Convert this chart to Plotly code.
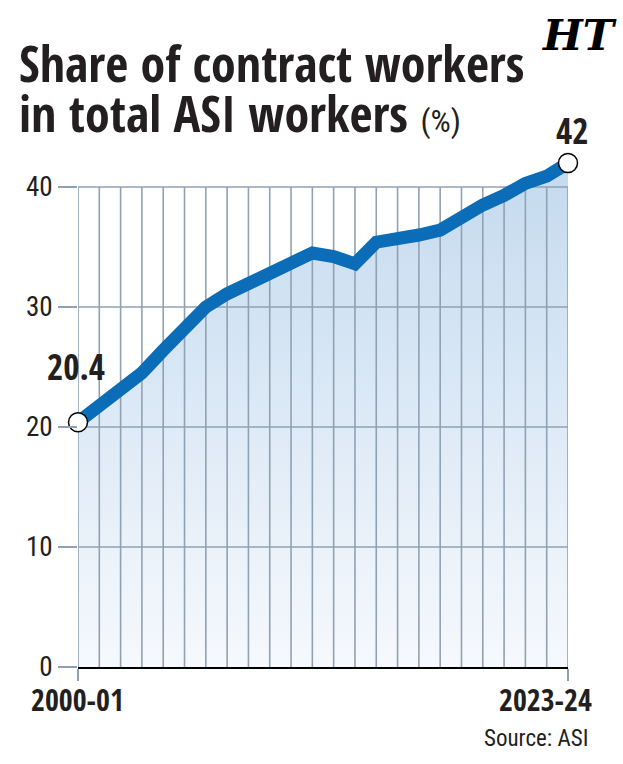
import plotly.graph_objects as go

# ---- data ----
years = ["2000-01", "2001-02", "2002-03", "2003-04", "2004-05", "2005-06", "2006-07",
         "2007-08", "2008-09", "2009-10", "2010-11", "2011-12", "2012-13", "2013-14",
         "2014-15", "2015-16", "2016-17", "2017-18", "2018-19", "2019-20", "2020-21",
         "2021-22", "2022-23", "2023-24"]
share = [20.4, 21.7, 23.1, 24.5, 26.4, 28.4, 30.0, 31.1, 32.0, 32.8, 33.9, 34.5,
         34.2, 33.6, 35.4, 35.6, 36.0, 36.4, 37.5, 38.5, 39.3, 40.3, 40.9, 42.0]
y_ticks = [0, 10, 20, 30, 40]

idx = list(range(len(years)))
BOLD = "Open Sans Condensed, Roboto Condensed, sans-serif"
REG = "Roboto Condensed, sans-serif"
INK = "#231f20"
GRID = "#8fa2b3"
LINE = "#0b6db7"

# pixel layout helpers
W, H = 623, 764
L, R = 78, 568
T, B = 127, 667
def px(xp):
    return (xp - L) / (R - L)
def py(yp):
    return (B - yp) / (B - T)

fig = go.Figure()

# gradient fill under the line
fig.add_trace(go.Scatter(
    x=idx, y=share, mode="none", fill="tozeroy",
    fillgradient=dict(type="vertical",
                      colorscale=[[0, "#f6f9fd"], [1, "#c4daef"]],
                      start=0, stop=max(share)),
    hoverinfo="skip", showlegend=False))

# grid drawn over the fill
gx, gy = [], []
for i in idx:
    gx += [i, i, None]
    gy += [0, max(y_ticks), None]
for t in y_ticks[1:]:
    gx += [idx[0], idx[-1], None]
    gy += [t, t, None]
fig.add_trace(go.Scatter(x=gx, y=gy, mode="lines",
                         line=dict(color=GRID, width=1.6),
                         hoverinfo="skip", showlegend=False))

# main line
fig.add_trace(go.Scatter(x=idx, y=share, mode="lines",
                         line=dict(color=LINE, width=13),
                         cliponaxis=False, hoverinfo="skip", showlegend=False))

# end markers
ends = [0, len(share) - 1]
fig.add_trace(go.Scatter(x=[idx[i] for i in ends], y=[share[i] for i in ends],
                         mode="markers",
                         marker=dict(size=19, color="white",
                                     line=dict(color="black", width=1.5)),
                         cliponaxis=False, hoverinfo="skip", showlegend=False))

ann = []
# title
ann.append(dict(text="<b>Share of contract workers</b>", xref="paper", yref="paper",
                x=px(17), y=py(63), xanchor="left", yanchor="middle", showarrow=False,
                font=dict(family=BOLD, size=50, color=INK)))
ann.append(dict(text="<b>in total ASI workers</b> <span style='font-family:Roboto Condensed;font-size:32px;font-weight:normal'>(%)</span>",
                xref="paper", yref="paper",
                x=px(17), y=py(113), xanchor="left", yanchor="middle", showarrow=False,
                font=dict(family=BOLD, size=50, color=INK)))
# HT logo
ann.append(dict(text="<b><i>HT</i></b>", xref="paper", yref="paper",
                x=px(579), y=py(35), xanchor="center", yanchor="middle", showarrow=False,
                font=dict(family="DejaVu Serif, serif", size=42, color="black")))
# value labels
ann.append(dict(text="<b>%g</b>" % share[0], x=idx[0], y=share[0], xref="x", yref="y",
                xshift=-2, yshift=56, showarrow=False, xanchor="center", yanchor="middle",
                font=dict(family=BOLD, size=35, color=INK)))
ann.append(dict(text="<b>%g</b>" % share[-1], x=idx[-1], y=share[-1], xref="x", yref="y",
                xshift=4, yshift=33, showarrow=False, xanchor="center", yanchor="middle",
                font=dict(family=BOLD, size=35, color=INK)))
# x end labels
ann.append(dict(text="<b>%s</b>" % years[0], x=idx[0], y=0, xref="x", yref="paper",
                xshift=-1, yshift=-32, showarrow=False, xanchor="center", yanchor="middle",
                font=dict(family=BOLD, size=30, color=INK)))
ann.append(dict(text="<b>%s</b>" % years[-1], x=idx[-1], y=0, xref="x", yref="paper",
                xshift=26, yshift=-32, showarrow=False, xanchor="right", yanchor="middle",
                font=dict(family=BOLD, size=30, color=INK)))
# source
ann.append(dict(text="Source: ASI", xref="paper", yref="paper", x=px(590), y=py(738),
                xanchor="right", yanchor="middle", showarrow=False,
                font=dict(family=REG, size=23, color=INK)))

fig.update_layout(
    width=W, height=H,
    margin=dict(l=L, r=W - R, t=T, b=H - B, pad=0),
    plot_bgcolor="white", paper_bgcolor="white",
    annotations=ann,
    xaxis=dict(range=[idx[0], idx[-1]], showgrid=False, zeroline=False,
               tickvals=[idx[0], idx[-1]], ticktext=["", ""],
               ticks="outside", ticklen=12, tickcolor=GRID, tickwidth=1.6,
               showline=True, linecolor="black", linewidth=2),
    yaxis=dict(range=[0, 45], tickvals=y_ticks, showgrid=False, zeroline=False,
               ticks="outside", ticklen=19, tickcolor=GRID, tickwidth=1.6,
               tickfont=dict(family=REG, size=27, color=INK),
               showline=False),
)

fig.write_html("out.html")
